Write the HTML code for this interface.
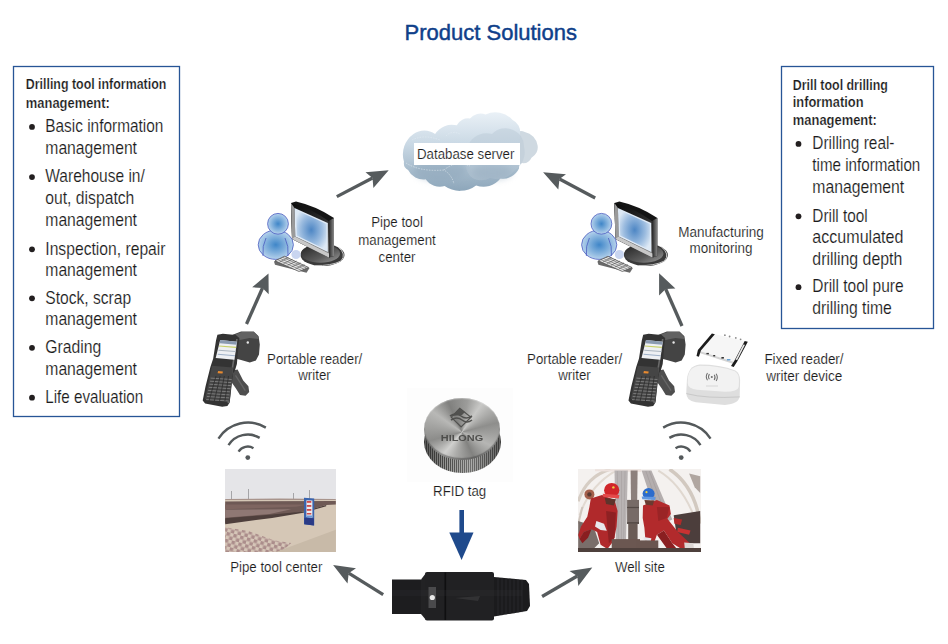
<!DOCTYPE html>
<html><head><meta charset="utf-8"><style>
html,body{margin:0;padding:0;background:#fff;width:948px;height:644px;overflow:hidden}
#wrap{position:relative;width:948px;height:644px}
.tagrim{position:absolute;left:423.5px;top:411px;width:77px;height:62px;border-radius:50%;
background:linear-gradient(90deg,rgba(30,30,30,.55),rgba(255,255,255,0) 30%,rgba(255,255,255,.2) 60%,rgba(30,30,30,.45)),repeating-linear-gradient(90deg,#4a4a48 0 1px,#9a9a98 1px 2px);}
.tagtop{position:absolute;left:424px;top:397.8px;width:76px;height:62px;border-radius:50%;
background:conic-gradient(from 10deg at 50% 55%,#9c9c9a,#c8c8c6 25deg,#8e8e8c 65deg,#b6b6b4 105deg,#828280 145deg,#acacaa 185deg,#d0d0ce 210deg,#8c8c8a 245deg,#b8b8b6 295deg,#80807e 325deg,#9c9c9a);
box-shadow:inset 0 -2px 1px rgba(60,60,60,.45), inset 0 1px 1px rgba(255,255,255,.3);}

.tagbg{position:absolute;left:407px;top:388px;width:106px;height:94px;background:#fdfdfd;}

</style></head><body><div id="wrap">
<div class="tagbg"></div><div class="tagrim"></div><div class="tagtop"></div>

<svg width="948" height="644" viewBox="0 0 948 644" style="position:absolute;left:0;top:0">
<defs><linearGradient id="cloudg" gradientUnits="userSpaceOnUse" x1="0" y1="108" x2="0" y2="190">
<stop offset="0" stop-color="#eef4f9"/><stop offset="0.45" stop-color="#c9d8e4"/><stop offset="1" stop-color="#8ea7bb"/>
</linearGradient>
<linearGradient id="cloudg2" gradientUnits="userSpaceOnUse" x1="0" y1="130" x2="0" y2="190">
<stop offset="0" stop-color="#c2d2df"/><stop offset="1" stop-color="#90a9bd"/>
</linearGradient>
<radialGradient id="headg" cx="0.5" cy="0.5" r="0.5">
<stop offset="0" stop-color="#3f86c8"/><stop offset="1" stop-color="#b6d2ec"/>
</radialGradient>
<radialGradient id="screeng" cx="0.5" cy="0.5" r="0.6">
<stop offset="0" stop-color="#4d86c4"/><stop offset="0.6" stop-color="#9dbde0"/><stop offset="1" stop-color="#dde9f5"/>
</radialGradient>
<linearGradient id="frameg" x1="0" y1="0" x2="1" y2="0">
<stop offset="0" stop-color="#d8d8d8"/><stop offset="0.3" stop-color="#202020"/><stop offset="1" stop-color="#404040"/>
</linearGradient>
<linearGradient id="baseg" x1="0" y1="0" x2="1" y2="1">
<stop offset="0" stop-color="#202020"/><stop offset="0.6" stop-color="#5a5a5a"/><stop offset="1" stop-color="#9a9a9a"/>
</linearGradient>
<filter id="cblur" x="-50%" y="-50%" width="200%" height="200%"><feGaussianBlur stdDeviation="3"/></filter>
<linearGradient id="sideg" x1="0" y1="0" x2="1" y2="0"><stop offset="0" stop-color="#202020"/><stop offset="1" stop-color="#8a8a8a"/></linearGradient>
<linearGradient id="frameg2" x1="0" y1="0" x2="0.3" y2="1"><stop offset="0" stop-color="#080808"/><stop offset="0.5" stop-color="#2a2a2a"/><stop offset="1" stop-color="#7a7a7a"/></linearGradient>
</defs>
<rect x="13.5" y="66.5" width="166" height="350" fill="none" stroke="#275596" stroke-width="1.3"/>
<rect x="781.5" y="66.5" width="152" height="262" fill="none" stroke="#275596" stroke-width="1.3"/>
<g>
<path d="M515,134 A8.5,8.5 0 0 1 524.8,132 A15.8,15.8 0 0 1 537.6,145.5 A11.6,11.6 0 0 1 531.5,157.7 A9.3,9.3 0 0 1 522,163.1 A6.0,6.0 0 0 1 515,163 A24.6,24.6 0 0 1 515,134Z" fill="#cfd9e1"/>
<path d="M404,161.8 A25.0,25.0 0 0 1 413.5,134 A18.4,18.4 0 0 1 435.1,134 A19.9,19.9 0 0 1 456.8,125.3 A12.6,12.6 0 0 1 470,118.5 A13.7,13.7 0 0 1 485.6,114.5 A23.4,23.4 0 0 1 512.6,119.9 A13.1,13.1 0 0 1 520,133.4 L519,168.5 A18.0,18.0 0 0 1 500.4,178.6 A21.4,21.4 0 0 1 476.1,185.4 A26.8,26.8 0 0 1 444.6,186.1 A17.1,17.1 0 0 1 425.7,179.3 A17.0,17.0 0 0 1 408.1,169.9 A7.7,7.7 0 0 1 404,161.8Z" fill="url(#cloudg)"/>
<path d="M470,142 A19.9,19.9 0 0 1 492,134 A18.2,18.2 0 0 1 513,130 A17.2,17.2 0 0 1 524,147 A21.0,21.0 0 0 1 515,170 A22.3,22.3 0 0 1 490,178 A17.1,17.1 0 0 1 470,176 A28.9,28.9 0 0 1 470,142Z" fill="#b7c8d5" opacity="0.45"/>
<g filter="url(#cblur)" opacity="0.5">
<ellipse cx="440" cy="170" rx="26" ry="11" fill="#8ea6ba"/>
<ellipse cx="492" cy="172" rx="20" ry="8" fill="#97adc0"/>
</g>
<path d="M406,163 Q420,172 444,170 Q452,175 454,184 M444,170 Q456,160 470,166" fill="none" stroke="#eef4f8" stroke-width="0.6" stroke-dasharray="1.5,1.2" opacity="0.85"/>
<path d="M412,140 Q424,134 440,140 M446,136 Q452,130 460,134" fill="none" stroke="#eef4f8" stroke-width="0.6" stroke-dasharray="1.5,1.2" opacity="0.6"/>
<rect x="414" y="143" width="106" height="22" fill="#ffffff"/>
</g>
<g id="comp">
<!-- base -->
<ellipse cx="322.5" cy="255" rx="22" ry="11" fill="#3a3a3a"/>
<path d="M338,247 Q347,254 341,261 Q331,266 315,265.5" fill="none" stroke="#c4c4c4" stroke-width="1"/>
<ellipse cx="320.5" cy="253.5" rx="19.5" ry="9.2" fill="url(#baseg)"/>
<!-- monitor -->
<path d="M291,203 L296,201.5 Q316,206 334,218 L334,256 L329,257.5 L292,239 Z" fill="#141414"/>
<polygon points="328.5,221 334,218 334,256 329,257.5" fill="url(#sideg)"/>
<path d="M291,203 Q311,208 328.5,221 L329,257.5 L292,239 Z" fill="url(#frameg2)"/>
<polygon points="292,239 329,257.5 329,253.5 293,235.5" fill="#c8c8c8"/>
<polygon points="291,203 294.5,208 295.3,236.5 292,239" fill="#9a9a9a"/>
<!-- screen -->
<polygon points="294.5,208 327.8,223 327.8,252 295.3,236.5" fill="#dfeaf6"/>
<polygon points="296,210 326.5,224 326.5,250 296.8,235.5" fill="url(#screeng)"/>
<!-- person -->
<circle cx="296" cy="254.5" r="4.6" fill="#c9d5f0"/>
<ellipse cx="275.8" cy="244.8" rx="17.6" ry="14.6" fill="url(#headg)" stroke="#4a5cc0" stroke-width="0.8"/>
<path d="M266,238 Q262,246 263,256 M285,238 Q289,246 288,256" fill="none" stroke="#4a5cc0" stroke-width="0.8"/>
<circle cx="278" cy="223.8" r="10.4" fill="url(#headg)" stroke="#4a5cc0" stroke-width="0.8"/>
<!-- keyboard -->
<polygon points="274,261.5 284.5,256.3 309.5,268 306.5,272.8 275,264.8" fill="#6a6a6a"/>
<polygon points="275,260.8 284.5,256.3 308.5,267.4 299,271.5" fill="#e6e6e6" stroke="#4a4a4a" stroke-width="0.7"/>
<g stroke="#4a4a4a" stroke-width="0.55">
<line x1="277.5" y1="259.6" x2="301.5" y2="270.3"/>
<line x1="280" y1="258.4" x2="304" y2="269.1"/>
<line x1="282.5" y1="257.3" x2="306.5" y2="268"/>
<line x1="279.5" y1="262" x2="288.5" y2="257.6"/>
<line x1="283.5" y1="263.6" x2="292.5" y2="259.3"/>
<line x1="287.5" y1="265.3" x2="296.5" y2="261"/>
<line x1="291.5" y1="267" x2="300.5" y2="262.8"/>
<line x1="295.5" y1="268.8" x2="304.5" y2="264.6"/>
</g>
</g>
<use href="#comp" transform="translate(323.4,0)"/>

<g id="hh">
<path d="M230.6,371.1 L237.6,369.4 L243.2,380.6 L248.4,386.2 L249.2,392.1 L245.6,395.7 L240.0,395.1 L235.8,388.2 L230.8,381.2 Z" fill="#4e4e4e"/>
<path d="M235.5,375.3 L245.3,390.7" stroke="#666" stroke-width="1.3"/>
<path d="M232.7,334.8 L241.1,331.4 L253.7,331.4 L258.6,336.2 L259.8,344.6 L259.0,354.6 L255.9,360.6 L249.8,362.4 L241.1,359.9 L235.5,358.5 L234.1,346.0 Z" fill="#444"/>
<path d="M235.5,334.2 L241.8,332.0 L253.7,332.0 L257.9,336.2 L258.6,339.0 L249.5,337.9 L239.7,340.1 Z" fill="#626262"/>
<circle cx="247.8" cy="342.5" r="1.2" fill="#e8e8e8"/>
<path d="M217.4,334.8 L222.9,333.7 L235.5,335.1 L239.4,337.9 L238.6,343.9 L236.9,364.1 L234.8,371.1 L233.0,373.2 L229.7,402.5 L227.4,406.0 L222.2,406.7 L205.1,403.5 L202.7,400.5 L205.5,386.5 L210.4,366.9 L213.2,358.5 L216.0,340.4 Z" fill="#333"/>
<path d="M236.9,339.0 L231.3,375.3 L228.3,403.2" fill="none" stroke="#6a6a6a" stroke-width="1.6"/>
<polygon points="220.2,340.1 236.9,341.8 234.4,359.7 215.7,358.0" fill="#eef0f3"/>
<polygon points="220.2,340.1 236.9,341.8 236.5,344.8 219.7,343.2" fill="#8a9ab0"/>
<g stroke-width="1.1">
<line x1="219.0" y1="346.0" x2="236.1" y2="347.4" stroke="#c8d06a"/>
<line x1="218.5" y1="350.2" x2="235.5" y2="351.5" stroke="#aab4be"/>
<line x1="217.8" y1="354.3" x2="235.0" y2="355.7" stroke="#9eb0c8"/>
</g>
<polygon points="212.0,365.8 233.0,367.6 229.7,401.6 205.1,399.1" fill="#454545"/>
<polygon points="218.1,371.1 222.9,371.5 222.5,373.6 217.6,373.2" fill="#e88a30"/>
<g stroke="#7c7c7c" stroke-width="1"><line x1="210.6" y1="378.1" x2="231.6" y2="379.5"/><line x1="210.0" y1="381.2" x2="231.2" y2="382.6"/><line x1="209.4" y1="384.2" x2="230.8" y2="385.6"/><line x1="208.8" y1="387.3" x2="230.4" y2="388.7"/><line x1="208.1" y1="390.4" x2="229.9" y2="391.8"/><line x1="207.5" y1="393.5" x2="229.5" y2="394.9"/><line x1="206.9" y1="396.5" x2="229.1" y2="397.9"/><line x1="206.2" y1="399.6" x2="228.7" y2="401.0"/></g><g stroke="#2c2c2c" stroke-width="0.8"><line x1="216.0" y1="376.0" x2="209.0" y2="401.1"/><line x1="220.2" y1="376.0" x2="214.3" y2="401.1"/><line x1="224.3" y1="376.0" x2="219.6" y2="401.1"/><line x1="228.5" y1="376.0" x2="224.9" y2="401.1"/></g></g>
<use href="#hh" transform="translate(425.8,0)"/>
<!-- fixed reader module -->
<g>
<polygon points="713.2,333.8 747.4,341.7 735.1,362.2 698.2,350.6" fill="#f6f6f6"/>
<polygon points="698.2,350.6 735.1,362.2 734.4,364.2 697.9,352.6" fill="#d4d4d4"/>
<polygon points="711.9,333.5 714.9,334.2 700.9,350.6 698.9,356.7 696.5,356.0 697.9,349.9" fill="#1c1c1c"/>
<polygon points="744.7,341.0 747.8,341.7 737.2,361.5 733.7,367.0 731.0,365.9 734.4,360.8" fill="#1c1c1c"/>
<polygon points="743.3,344.4 745.0,344.7 737.2,360.1 735.5,359.8" fill="#e8e8e8"/>
<g fill="#8a8a8a"><circle cx="724.9" cy="335.2" r="0.9"/><circle cx="729.6" cy="336.5" r="0.9"/><circle cx="735.8" cy="337.9" r="0.9"/><circle cx="740.6" cy="339.3" r="0.9"/></g>
<g fill="#333"><rect x="706.4" y="352.9" width="2.5" height="1.4"/><rect x="713.2" y="355.0" width="2" height="1.4"/><rect x="721.4" y="357.0" width="2.5" height="1.6"/></g>
<rect x="726.9" y="359.1" width="3.5" height="1.3" fill="#5a9ad0"/>
</g>
<!-- antenna -->
<g>
<path d="M699.8,364.6 Q719.6,364.6 735.4,370.5 Q740.1,373.2 740.1,380.4 L739.7,396.3 Q738.7,404.2 724.9,404.9 L695.8,402.2 Q685.9,400.9 686.3,392.3 L686.9,380.4 Q687.9,365.9 699.8,364.6 Z" fill="#dedede"/>
<path d="M700.5,365.7 Q719.6,365.7 734.8,371.2 Q739.1,373.6 739.0,380.4 L738.7,387.0 Q738.1,391.7 724.9,391.7 L697.2,389.7 Q687.7,389.0 687.7,383.1 L687.9,377.8 Q689.0,366.2 700.5,365.7 Z" fill="#f2f2f2"/>
<path d="M686.3,393.6 Q706.4,398.9 739.7,396.9" fill="none" stroke="#c8c8c8" stroke-width="1"/>
<g transform="translate(711.8,377) scale(0.8) translate(-711.8,-377)"><g fill="none" stroke="#6e6e6e" stroke-width="1.3">
<path d="M708.8,373.2 Q706.6,376.5 708.8,379.8"/><path d="M706.4,372 Q703.4,376.5 706.4,381"/>
<path d="M714.8,374.2 Q717,377.5 714.8,380.8"/><path d="M717.2,373 Q720.2,377.5 717.2,382"/>
</g>
<circle cx="711.8" cy="377" r="1.3" fill="#6e6e6e"/></g>
<rect x="706" y="385.5" width="12" height="1" fill="#d6d6d6"/>
</g>

<clipPath id="ph1"><rect x="225" y="469" width="111" height="83"/></clipPath>
<clipPath id="ph2"><rect x="578" y="469" width="123" height="83"/></clipPath>
<pattern id="chk" patternUnits="userSpaceOnUse" width="7" height="7" patternTransform="rotate(15)"><rect width="7" height="7" fill="#d6c6b8"/><rect width="3.5" height="3.5" fill="#ab8d8b"/><rect x="3.5" y="3.5" width="3.5" height="3.5" fill="#ab8d8b"/></pattern>
<g clip-path="url(#ph1)">
<rect x="225" y="469" width="111" height="83" fill="#e5e5e8"/>
<g stroke="#8a8a8c" stroke-width="0.7"><line x1="231.5" y1="491" x2="231.5" y2="500"/><line x1="248.5" y1="489" x2="248.5" y2="500"/><line x1="293.5" y1="493" x2="293.5" y2="500"/><line x1="309.5" y1="490" x2="309.5" y2="500"/></g>
<polygon points="225.2,499.0 279.3,498.4 335.8,499.0 335.8,502.0 225.2,502.0" fill="#a8948c"/>
<rect x="225" y="500" width="111" height="52" fill="#d5c7b6"/>
<polygon points="225.2,501.4 335.8,501.1 335.8,504.4 326.2,505.0 303.4,511.6 272.1,517.1 225.2,523.1" fill="#6e5955"/>
<polygon points="225.2,504.4 308.2,504.4 296.2,506.8 260.1,508.0 225.2,509.2" fill="#7e6560"/>
<polygon points="225.2,509.8 291.3,509.2 269.7,514.1 225.2,517.7" fill="#8f7874"/>
<polygon points="225.2,518.3 269.7,514.7 303.4,511.4 326.2,505.0 326.2,506.2 303.4,512.8 272.1,517.9 225.2,524.3" fill="#4e3f3c"/>
<polygon points="225.2,527.3 248.1,530.9 274.5,540.5 291.3,542.9 280.5,552.5 225.2,552.5" fill="url(#chk)"/>
<polygon points="274.5,552.5 335.8,529.7 335.8,552.5" fill="#c8baa8"/>
<polygon points="304.0,497.8 314.2,498.4 314.2,525.5 304.0,524.3" fill="#3a64ae"/>
<polygon points="306.4,500.2 312.4,500.6 312.4,517.7 306.4,517.1" fill="#eceaee"/>
<g fill="#cc4a4a"><rect x="306.8" y="501" width="4.5" height="1.8"/><rect x="306.8" y="505" width="4.5" height="1.8"/><rect x="306.8" y="509" width="4.5" height="1.8"/><rect x="306.8" y="513" width="4.5" height="1.5"/></g>
<rect x="306.5" y="515.5" width="5.5" height="2" fill="#6a98d8"/>
<polygon points="304.3,517.7 313.9,518.3 313.9,525.5 304.3,524.3" fill="#2a3a86"/>
</g>
<g clip-path="url(#ph2)">
<rect x="578" y="469" width="123" height="83" fill="#f4f1ef"/>
<path d="M578.2,501.3 Q586.6,476.2 610.3,469.2" fill="none" stroke="#d6cdc4" stroke-width="3"/>
<path d="M579.6,515.3 Q589.4,486.0 615.9,470.6" fill="none" stroke="#e2dad2" stroke-width="2"/>
<path d="M578.2,523.7 L582.4,506.9" fill="none" stroke="#cfc6be" stroke-width="2"/>
<path d="M669.5,469.2 Q694.7,485.9 700.2,523.7" fill="none" stroke="#d2c9c0" stroke-width="3.5"/>
<path d="M658.3,470.6 Q682.1,484.6 694.7,518.1" fill="none" stroke="#e0d8d0" stroke-width="2"/>
<path d="M689.1,473.4 L700.2,476.2 L700.2,492.9 L694.7,487.3 Z" fill="#b0a6a0"/>
<polygon points="595.0,469.2 641.1,469.2 641.1,472.0 595.0,471.3" fill="#ede2de"/>
<polygon points="614.5,470.6 627.8,470.6 626.0,540.5 615.9,540.5" fill="#b9b4b4"/>
<g stroke="#a29c9c" stroke-width="0.5"><line x1="617.3" y1="471" x2="618.4" y2="540"/><line x1="621.5" y1="471" x2="621.5" y2="540"/><line x1="625.0" y1="471" x2="623.6" y2="540"/></g>
<polygon points="641.6,470.6 651.4,470.6 672.3,519.5 659.7,525.1" fill="#b4aeae"/>
<g stroke="#9c9696" stroke-width="0.5"><line x1="645.8" y1="471" x2="663.9" y2="522.3"/><line x1="649.3" y1="471" x2="668.1" y2="520.9"/></g>
<polygon points="630.6,470.6 637.6,470.6 637.2,499.9 631.0,499.9" fill="#8c807c"/>
<polygon points="627.1,499.9 639.0,499.9 639.0,523.7 627.1,523.7" fill="#776b67"/>
<rect x="627.1" y="506.9" width="11.9" height="1.2" fill="#544a46"/>
<rect x="627.1" y="522.3" width="11.9" height="1.5" fill="#4a403c"/>
<polygon points="628.2,523.7 637.6,523.7 637.6,540.5 628.2,540.5" fill="#6a5c56"/>
<circle cx="589.4" cy="494.4" r="5" fill="#a4604c"/>
<circle cx="589.4" cy="494.4" r="2.2" fill="#5a3a32"/>
<polygon points="578.2,520.9 586.6,523.7 595.0,530.7 599.2,543.3 592.2,550.3 578.2,550.3" fill="#7a6e6a"/>
<polygon points="590.8,498.5 602.0,495.0 614.5,499.9 617.6,511.1 616.6,526.5 613.8,540.5 607.5,548.9 600.6,544.7 597.1,532.1 591.5,529.3 583.8,532.1 579.6,539.1 578.2,534.9 581.0,526.5 587.3,516.7 589.4,506.9" fill="#b0292b"/>
<polygon points="579.6,539.1 583.8,532.1 591.5,529.3 588.0,537.7 582.4,543.3" fill="#8a1e20"/>
<polygon points="606.1,511.1 615.9,512.5 614.5,537.7 608.9,543.3 607.5,529.3" fill="#8e2123"/>
<polygon points="596.4,520.9 604.0,523.7 606.8,530.7 600.6,530.0 595.0,526.5" fill="#e8e8ec"/>
<ellipse cx="611.7" cy="490.2" rx="7.6" ry="7.3" fill="#d0262a"/>
<polygon points="602.7,493.7 619.4,495.0 618.7,498.5 603.4,497.1" fill="#e44a4a"/>
<polygon points="604.7,497.8 615.9,499.2 613.8,505.5 606.1,504.1" fill="#5e342c"/>
<circle cx="613.4" cy="487.4" r="1.2" fill="#f0d040"/>
<polygon points="673.7,515.3 700.2,511.1 700.2,543.2 677.9,543.2" fill="#4c3e3c"/>
<polygon points="677.9,527.8 690.5,530.6 689.1,534.8 677.2,532.0" fill="#c83232"/>
<polygon points="673.7,518.1 682.1,519.5 680.7,525.1 674.4,523.7" fill="#b02a2a"/>
<polygon points="643.0,505.5 656.9,499.9 669.5,505.5 670.9,513.9 667.4,518.8 677.9,532.0 689.1,542.5 691.9,548.1 683.5,550.2 672.3,543.2 663.9,530.6 656.9,534.8 651.4,550.2 645.8,544.6 644.4,527.8 642.7,518.1" fill="#b22a2c"/>
<polygon points="656.9,534.8 663.9,530.6 672.3,543.2 677.9,550.2 668.1,550.2" fill="#8a1f21"/>
<polygon points="656.9,506.9 669.5,506.9 666.7,518.1 658.3,520.9" fill="#9a2426"/>
<polygon points="643.7,536.9 651.4,538.3 650.7,541.5 643.7,540.4" fill="#e6e6ea"/>
<polygon points="684.2,542.5 693.3,543.2 694.0,548.8 684.9,549.5" fill="#dcd6d4"/>
<ellipse cx="648.6" cy="493.6" rx="6" ry="5.6" fill="#2c6ccc"/>
<polygon points="641.6,496.4 655.6,497.1 654.9,499.9 642.3,499.2" fill="#6298e0"/>
<polygon points="644.4,499.9 654.2,500.6 652.8,505.5 645.8,504.8" fill="#6a3a30"/>
<circle cx="646.5" cy="492.2" r="1.1" fill="#f0d040"/>
<polygon points="611.7,539.1 640.0,539.1 640.0,550.3 611.7,550.3" fill="#6b5751"/>
<polygon points="636.0,540.4 658.3,540.4 658.3,550.2 636.0,550.2" fill="#6a5650"/>
<rect x="578" y="548" width="123" height="4" fill="#4e403c"/>
</g>

<g>
<polygon points="392,579.4 421,579.4 421,614 392,614" fill="#1d1d1f"/>
<polygon points="421,579.4 426,573 426,620 421,614" fill="#222224"/>
<rect x="425" y="572" width="69" height="48.5" rx="2" fill="#212123"/>
<rect x="444.5" y="572.5" width="1.6" height="47.5" fill="#0f0f10"/>
<polygon points="494,577 526,580 529,584 530,606 527,611 494,616.5" fill="#1b1b1d"/>
<g stroke="#333336" stroke-width="0.6">
<line x1="498" y1="577.5" x2="498" y2="616"/><line x1="502" y1="577.8" x2="502" y2="615.3"/><line x1="506" y1="578.2" x2="506" y2="614.7"/><line x1="510" y1="578.5" x2="510" y2="614"/><line x1="514" y1="578.9" x2="514" y2="613.4"/><line x1="518" y1="579.2" x2="518" y2="612.8"/><line x1="522" y1="579.6" x2="522" y2="612.2"/>
</g>
<rect x="392" y="590" width="130" height="6" fill="#3a3a3c" opacity="0.18"/>
<rect x="428.5" y="587" width="7.5" height="21" fill="#4a4a4c"/>
<circle cx="432.3" cy="597.5" r="2.6" fill="#e8e8e8"/>
<path d="M455,598 L480,596 L478,601 Z" fill="#3a3a3c" opacity="0.7"/>
</g>

<line x1="336.8" y1="196.6" x2="372.5" y2="178" stroke="#565b5d" stroke-width="3.3"/><polygon points="388.7,170.3 365.5,172.2 372.5,178 373.4,187.9" fill="#565b5d"/><line x1="595.2" y1="198" x2="559.5" y2="179" stroke="#565b5d" stroke-width="3.3"/><polygon points="543.1,172.2 566,174.2 559.5,179 558.3,189.5" fill="#565b5d"/><line x1="246.5" y1="324" x2="262.5" y2="288" stroke="#565b5d" stroke-width="3.3"/><polygon points="268.5,273.4 252.2,287.3 262.5,288 268.7,294.3" fill="#565b5d"/><line x1="682" y1="326" x2="665.7" y2="289" stroke="#565b5d" stroke-width="3.3"/><polygon points="659.1,273.2 675.4,288.4 665.7,289 659.1,295.4" fill="#565b5d"/><line x1="383.2" y1="594.6" x2="348.7" y2="573.2" stroke="#565b5d" stroke-width="3.3"/><polygon points="333.1,565.1 356,568.3 348.7,573.2 347.5,583.6" fill="#565b5d"/><line x1="542.1" y1="596.5" x2="577.3" y2="576" stroke="#565b5d" stroke-width="3.3"/><polygon points="592.3,567.6 569.5,570.9 577.3,576 578.3,585.9" fill="#565b5d"/>
<circle cx="247.8" cy="457.6" r="2.4" fill="#54595b"/><path d="M238.57,451.61 A11,11 0 0 1 253.47,448.17" fill="none" stroke="#54595b" stroke-width="2.4"/><path d="M228.51,445.07 A23,23 0 0 1 259.65,437.89" fill="none" stroke="#54595b" stroke-width="2.4"/><path d="M218.45,438.54 A35,35 0 0 1 265.83,427.60" fill="none" stroke="#54595b" stroke-width="2.4"/><circle cx="681.2" cy="457.6" r="2.4" fill="#54595b"/><path d="M675.53,448.17 A11,11 0 0 1 690.43,451.61" fill="none" stroke="#54595b" stroke-width="2.4"/><path d="M669.35,437.89 A23,23 0 0 1 700.49,445.07" fill="none" stroke="#54595b" stroke-width="2.4"/><path d="M663.17,427.60 A35,35 0 0 1 710.55,438.54" fill="none" stroke="#54595b" stroke-width="2.4"/>
<rect x="459.4" y="510" width="4.6" height="24" fill="#1f4a8c"/><polygon points="449.3,532.4 473.5,532.4 461.6,560" fill="#1f4a8c"/>
<circle cx="32" cy="126.89999999999999" r="2.9" fill="#231f20"/><circle cx="32" cy="177.1" r="2.9" fill="#231f20"/><circle cx="32" cy="249.29999999999998" r="2.9" fill="#231f20"/><circle cx="32" cy="298.3" r="2.9" fill="#231f20"/><circle cx="32" cy="347.8" r="2.9" fill="#231f20"/><circle cx="32" cy="397.7" r="2.9" fill="#231f20"/><circle cx="798.5" cy="143.89999999999998" r="2.9" fill="#231f20"/><circle cx="798.5" cy="216.29999999999998" r="2.9" fill="#231f20"/><circle cx="798.5" cy="287.2" r="2.9" fill="#231f20"/>
<g font-family='"Liberation Sans", sans-serif'>
<text x="404.50" y="39.8" font-size="22" font-weight="normal" fill="#0f3f8a" text-anchor="start" stroke="#0f3f8a" stroke-width="0.45" textLength="172.50" lengthAdjust="spacingAndGlyphs">Product Solutions</text>
<text x="29.12" y="89.5" font-size="14" font-weight="bold" fill="#1a1a1a" text-anchor="start" transform="scale(0.886,1)" stroke="#fff" stroke-width="0.2">Drilling tool information</text>
<text x="27.89" y="108.3" font-size="14" font-weight="bold" fill="#1a1a1a" text-anchor="start" transform="scale(0.925,1)" stroke="#fff" stroke-width="0.2">management:</text>
<text x="51.48" y="132.2" font-size="17.5" font-weight="normal" fill="#1c1c1c" text-anchor="start" transform="scale(0.88,1)" stroke="#fff" stroke-width="0.15">Basic information</text>
<text x="50.45" y="154.0" font-size="17.5" font-weight="normal" fill="#1c1c1c" text-anchor="start" transform="scale(0.898,1)" stroke="#fff" stroke-width="0.15">management</text>
<text x="51.01" y="182.4" font-size="17.5" font-weight="normal" fill="#1c1c1c" text-anchor="start" transform="scale(0.888,1)" stroke="#fff" stroke-width="0.15">Warehouse in/</text>
<text x="50.50" y="204.2" font-size="17.5" font-weight="normal" fill="#1c1c1c" text-anchor="start" transform="scale(0.897,1)" stroke="#fff" stroke-width="0.15">out, dispatch</text>
<text x="50.45" y="226.0" font-size="17.5" font-weight="normal" fill="#1c1c1c" text-anchor="start" transform="scale(0.898,1)" stroke="#fff" stroke-width="0.15">management</text>
<text x="50.56" y="254.6" font-size="17.5" font-weight="normal" fill="#1c1c1c" text-anchor="start" transform="scale(0.896,1)" stroke="#fff" stroke-width="0.15">Inspection, repair</text>
<text x="50.45" y="276.3" font-size="17.5" font-weight="normal" fill="#1c1c1c" text-anchor="start" transform="scale(0.898,1)" stroke="#fff" stroke-width="0.15">management</text>
<text x="50.78" y="303.6" font-size="17.5" font-weight="normal" fill="#1c1c1c" text-anchor="start" transform="scale(0.892,1)" stroke="#fff" stroke-width="0.15">Stock, scrap</text>
<text x="50.45" y="325.4" font-size="17.5" font-weight="normal" fill="#1c1c1c" text-anchor="start" transform="scale(0.898,1)" stroke="#fff" stroke-width="0.15">management</text>
<text x="50.33" y="353.1" font-size="17.5" font-weight="normal" fill="#1c1c1c" text-anchor="start" transform="scale(0.9,1)" stroke="#fff" stroke-width="0.15">Grading</text>
<text x="50.45" y="375.0" font-size="17.5" font-weight="normal" fill="#1c1c1c" text-anchor="start" transform="scale(0.898,1)" stroke="#fff" stroke-width="0.15">management</text>
<text x="52.19" y="403.0" font-size="17.5" font-weight="normal" fill="#1c1c1c" text-anchor="start" transform="scale(0.868,1)" stroke="#fff" stroke-width="0.15">Life evaluation</text>
<text x="893.80" y="89.6" font-size="14" font-weight="bold" fill="#1a1a1a" text-anchor="start" transform="scale(0.887,1)" stroke="#fff" stroke-width="0.2">Drill tool drilling</text>
<text x="862.68" y="106.6" font-size="14" font-weight="bold" fill="#1a1a1a" text-anchor="start" transform="scale(0.919,1)" stroke="#fff" stroke-width="0.2">information</text>
<text x="857.08" y="125.2" font-size="14" font-weight="bold" fill="#1a1a1a" text-anchor="start" transform="scale(0.925,1)" stroke="#fff" stroke-width="0.2">management:</text>
<text x="922.02" y="149.2" font-size="17.5" font-weight="normal" fill="#1c1c1c" text-anchor="start" transform="scale(0.881,1)" stroke="#fff" stroke-width="0.15">Drilling real-</text>
<text x="935.83" y="171.1" font-size="17.5" font-weight="normal" fill="#1c1c1c" text-anchor="start" transform="scale(0.868,1)" stroke="#fff" stroke-width="0.15">time information</text>
<text x="902.56" y="193.0" font-size="17.5" font-weight="normal" fill="#1c1c1c" text-anchor="start" transform="scale(0.9,1)" stroke="#fff" stroke-width="0.15">management</text>
<text x="925.17" y="221.6" font-size="17.5" font-weight="normal" fill="#1c1c1c" text-anchor="start" transform="scale(0.878,1)" stroke="#fff" stroke-width="0.15">Drill tool</text>
<text x="882.93" y="243.5" font-size="17.5" font-weight="normal" fill="#1c1c1c" text-anchor="start" transform="scale(0.92,1)" stroke="#fff" stroke-width="0.15">accumulated</text>
<text x="894.60" y="265.4" font-size="17.5" font-weight="normal" fill="#1c1c1c" text-anchor="start" transform="scale(0.908,1)" stroke="#fff" stroke-width="0.15">drilling depth</text>
<text x="916.82" y="292.5" font-size="17.5" font-weight="normal" fill="#1c1c1c" text-anchor="start" transform="scale(0.886,1)" stroke="#fff" stroke-width="0.15">Drill tool pure</text>
<text x="902.56" y="314.4" font-size="17.5" font-weight="normal" fill="#1c1c1c" text-anchor="start" transform="scale(0.9,1)" stroke="#fff" stroke-width="0.15">drilling time</text>
<text x="439.16" y="227.4" font-size="14.7" font-weight="normal" fill="#1c1c1c" text-anchor="middle" transform="scale(0.904,1)" stroke="#fff" stroke-width="0.15">Pipe tool</text>
<text x="439.16" y="244.8" font-size="14.7" font-weight="normal" fill="#1c1c1c" text-anchor="middle" transform="scale(0.904,1)" stroke="#fff" stroke-width="0.15">management</text>
<text x="439.16" y="261.7" font-size="14.7" font-weight="normal" fill="#1c1c1c" text-anchor="middle" transform="scale(0.904,1)" stroke="#fff" stroke-width="0.15">center</text>
<text x="783.70" y="236.6" font-size="14.7" font-weight="normal" fill="#1c1c1c" text-anchor="middle" transform="scale(0.92,1)" stroke="#fff" stroke-width="0.15">Manufacturing</text>
<text x="787.98" y="253.5" font-size="14.7" font-weight="normal" fill="#1c1c1c" text-anchor="middle" transform="scale(0.915,1)" stroke="#fff" stroke-width="0.15">monitoring</text>
<text x="348.12" y="363.6" font-size="14.7" font-weight="normal" fill="#1c1c1c" text-anchor="middle" transform="scale(0.904,1)" stroke="#fff" stroke-width="0.15">Portable reader/</text>
<text x="347.90" y="379.8" font-size="14.7" font-weight="normal" fill="#1c1c1c" text-anchor="middle" transform="scale(0.904,1)" stroke="#fff" stroke-width="0.15">writer</text>
<text x="635.73" y="363.6" font-size="14.7" font-weight="normal" fill="#1c1c1c" text-anchor="middle" transform="scale(0.904,1)" stroke="#fff" stroke-width="0.15">Portable reader/</text>
<text x="635.51" y="379.8" font-size="14.7" font-weight="normal" fill="#1c1c1c" text-anchor="middle" transform="scale(0.904,1)" stroke="#fff" stroke-width="0.15">writer</text>
<text x="878.69" y="364" font-size="14.7" font-weight="normal" fill="#1c1c1c" text-anchor="middle" transform="scale(0.915,1)" stroke="#fff" stroke-width="0.15">Fixed reader/</text>
<text x="869.51" y="381" font-size="14.7" font-weight="normal" fill="#1c1c1c" text-anchor="middle" transform="scale(0.925,1)" stroke="#fff" stroke-width="0.15">writer device</text>
<text x="508.41" y="495.7" font-size="14.7" font-weight="normal" fill="#1c1c1c" text-anchor="middle" transform="scale(0.904,1)" stroke="#fff" stroke-width="0.15">RFID tag</text>
<text x="515.15" y="158.7" font-size="14.7" font-weight="normal" fill="#1c1c1c" text-anchor="middle" transform="scale(0.904,1)" stroke="#fff" stroke-width="0.15">Database server</text>
<text x="305.64" y="572.3" font-size="14.7" font-weight="normal" fill="#1c1c1c" text-anchor="middle" transform="scale(0.904,1)" stroke="#fff" stroke-width="0.15">Pipe tool center</text>
<text x="707.85" y="571.8" font-size="14.7" font-weight="normal" fill="#1c1c1c" text-anchor="middle" transform="scale(0.904,1)" stroke="#fff" stroke-width="0.15">Well site</text>
</g>
<g fill="#4a4a48" font-family='"Liberation Sans", sans-serif' font-weight="bold">
<text x="462" y="440.5" font-size="9.6" text-anchor="middle" textLength="42.5" lengthAdjust="spacingAndGlyphs" opacity="0.95">HILONG</text>
</g>
<g opacity="0.95">
<polygon points="459.7,408.2 470.9,417.2 461.1,427 451.3,417.2" fill="none" stroke="#4e4e4c" stroke-width="1.2"/>
<polygon points="459.7,408.2 452,416 462,415 465,412" fill="#4e4e4c"/>
<path d="M450,416 Q456,412 461,416 Q466,420 472,416" fill="none" stroke="#4e4e4c" stroke-width="1.6"/>
<path d="M451,420 Q457,416 462,420 Q467,424 472,420" fill="none" stroke="#4e4e4c" stroke-width="1.6"/>
</g>

</svg>
</div></body></html>
